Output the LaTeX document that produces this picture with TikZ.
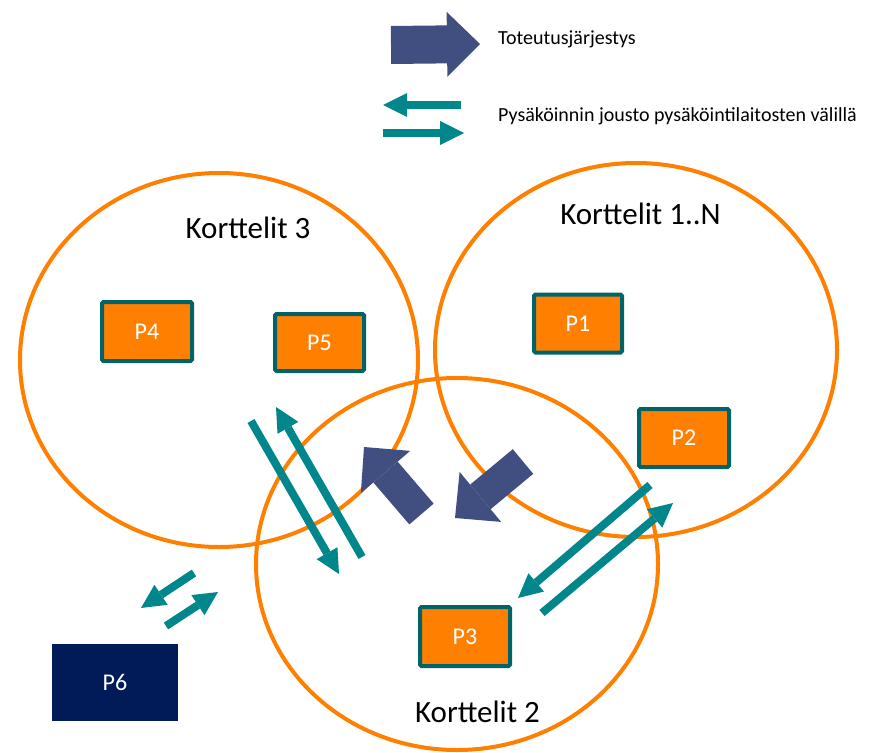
\documentclass[tikz,border=0pt]{standalone}
\usepackage{fontspec}
\setmainfont{Carlito}
\usetikzlibrary{arrows.meta,shapes.geometric}
\definecolor{korange}{RGB}{255,128,0}
\definecolor{kteal}{RGB}{0,134,139}
\definecolor{kborder}{RGB}{0,99,104}
\definecolor{knavy}{RGB}{64,79,127}
\definecolor{kdark}{RGB}{0,27,87}
\begin{document}
\begin{tikzpicture}[x=1bp,y=-1bp,
  area/.style={draw=korange, line width=4bp, ellipse, inner sep=0pt},
  areatext/.style={anchor=base, font=\fontsize{31bp}{36bp}\selectfont, text=black, inner sep=0pt},
  pbox/.style={draw=kborder, fill=korange, line width=4bp, rounded corners=1.5bp,
    text=white, font=\fontsize{24bp}{28bp}\selectfont, inner sep=0pt,
    minimum width=90bp, minimum height=58bp},
  darkbox/.style={fill=kdark, text=white, font=\fontsize{24bp}{28bp}\selectfont,
    inner sep=0pt, minimum width=126bp, minimum height=77bp},
  legendtext/.style={anchor=base west, font=\fontsize{20bp}{24bp}\selectfont, inner sep=0pt},
  flex/.style={draw=kteal, line width=8bp, -{Triangle[length=24bp,width=24bp,line width=0pt]}},
  order/.style={draw=knavy, line width=32bp, -{Triangle[length=33bp,width=65bp,line width=0pt]}},
  legendorder/.style={draw=knavy, line width=38bp, -{Triangle[length=33bp,width=65bp,line width=0pt]}}
]
\useasboundingbox (0,0) rectangle (874,753);

% areas
\node[area, minimum width=398bp, minimum height=374bp] (k3) at (219,360) {};
\node[area, minimum width=402bp, minimum height=374bp] (k1) at (636,350) {};
\node[area, minimum width=402bp, minimum height=372bp] (k2) at (457,564) {};

\node[areatext] (t3) at (248,238) {Korttelit 3};
\node[areatext] (t1) at (640.5,224) {Korttelit 1..N};
\node[areatext] (t2) at (477.5,722) {Korttelit 2};

% parking facilities
\node[pbox, minimum width=90bp, minimum height=59bp] (p4) at (147,331.5) {P4};
\node[pbox, minimum width=89bp, minimum height=57bp] (p5) at (319.5,342.5) {P5};
\node[pbox, minimum width=88bp, minimum height=58bp] (p1) at (578,323.5) {P1};
\node[pbox, minimum width=90bp, minimum height=58bp] (p2) at (684,438) {P2};
\node[pbox, minimum width=90bp, minimum height=59bp] (p3) at (465,636.5) {P3};
\node[darkbox] (p6) at (115,682.5) {P6};

% flexibility arrows
\coordinate (a1s) at (251,421); \coordinate (a1e) at (339,574);
\coordinate (a2s) at (362,557); \coordinate (a2e) at (276,407);
\coordinate (b1s) at (650,485); \coordinate (b1e) at (518,598);
\coordinate (b2s) at (542,613); \coordinate (b2e) at (673,503);
\coordinate (c1s) at (194,573); \coordinate (c1e) at (141,608);
\coordinate (c2s) at (166,626); \coordinate (c2e) at (218,592);
\draw[flex] (a1s) -- (a1e);
\draw[flex] (a2s) -- (a2e);
\draw[flex] (b1s) -- (b1e);
\draw[flex] (b2s) -- (b2e);
\draw[flex] (c1s) -- (c1e);
\draw[flex] (c2s) -- (c2e);

% implementation order arrows
\coordinate (o1s) at (421.5,514); \coordinate (o1e) at (364,447);
\coordinate (o2s) at (523,461.5); \coordinate (o2e) at (455,518);
\draw[order] (o1s) -- (o1e);
\draw[order] (o2s) -- (o2e);

% legend
\coordinate (lo1) at (391,45); \coordinate (lo2) at (480,44);
\draw[legendorder] (lo1) -- (lo2);
\node[legendtext] (lt1) at (498,45) {Toteutusjärjestys};
\coordinate (lf1s) at (461,105); \coordinate (lf1e) at (383,105);
\coordinate (lf2s) at (383,133); \coordinate (lf2e) at (464,133);
\draw[flex] (lf1s) -- (lf1e);
\draw[flex] (lf2s) -- (lf2e);
\node[legendtext] (lt2) at (498,121) {Pysäköinnin jousto pysäköintilaitosten välillä};
\end{tikzpicture}
\end{document}
